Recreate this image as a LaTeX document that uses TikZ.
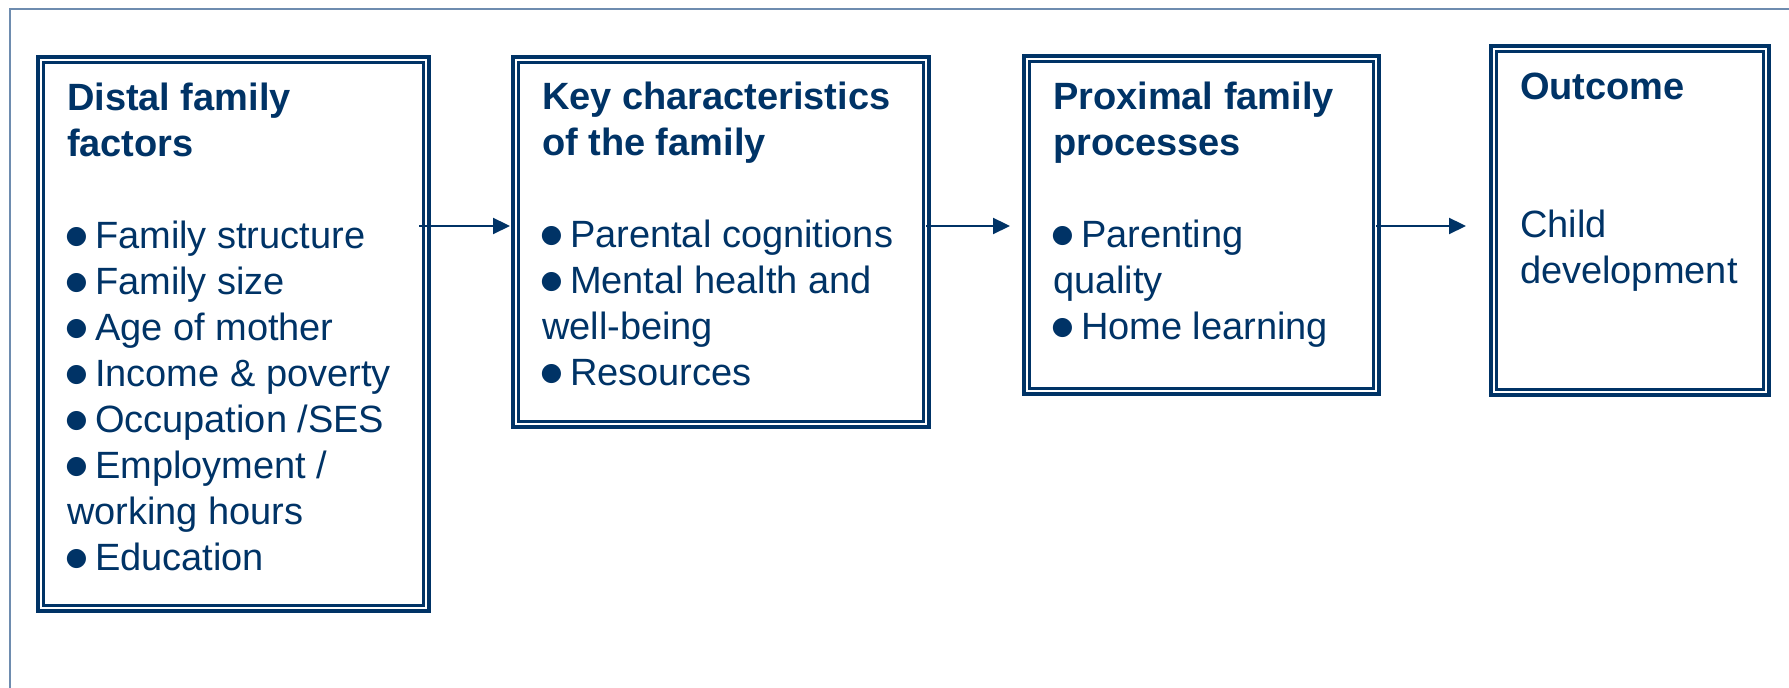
\documentclass[tikz,border=0pt]{standalone}
\usepackage{fontspec}
\setmainfont{Liberation Sans}
\newfontfamily\djv{DejaVu Sans}
\usetikzlibrary{arrows.meta,calc}
\definecolor{navy}{RGB}{0,51,102}
\definecolor{framecol}{RGB}{110,140,175}
\tikzset{
  box/.style={draw=navy, line width=2pt, inner sep=0pt, outer sep=0pt, rectangle},
  innerline/.style={draw=navy, line width=1.2pt},
  lbl/.style={anchor=base west, align=left, inner sep=0pt, outer sep=0pt, text=navy,
    font=\fontsize{19pt}{23pt}\selectfont},
  conn/.style={draw=navy, line width=1.1pt, -{Triangle[length=8.5pt,width=8pt]}},
}
\newcommand{\innerbox}[1]{\draw[innerline] ($(#1.north west)+(2.7pt,-2.7pt)$) rectangle ($(#1.south east)+(-2.7pt,2.7pt)$);}
\newcommand{\bul}{\hbox to 14pt{\kern-0.7pt\raisebox{2.6pt}{\djv\fontsize{12.5pt}{12.5pt}\selectfont ●}\hss}}
\begin{document}
\begin{tikzpicture}[x=0.5pt,y=-0.5pt]
\useasboundingbox (0,0) rectangle (1789,688);
% outer frame (cut by the picture edges)
\draw[framecol, line width=0.8pt] (10,700) -- (10,9) -- (1800,9);

% boxes
\node[box, minimum width=195.5pt, minimum height=277pt] (b1) at (233.5,334) {};
\node[box, minimum width=208pt, minimum height=185pt] (b2) at (721,242) {};
\node[box, minimum width=177.5pt, minimum height=169pt] (b3) at (1201.5,225) {};
\node[box, minimum width=139pt, minimum height=174.5pt] (b4) at (1630,220.5) {};
\innerbox{b1}
\innerbox{b2}
\innerbox{b3}
\innerbox{b4}

% texts (anchored at the baseline of the last line)
\node[lbl] (t1) at (67,571) {\textbf{Distal family}\\\textbf{factors}\\[23pt]%
\bul Family structure\\\bul Family size\\\bul Age of mother\\%
\bul Income \& poverty\\\bul Occupation /SES\\\bul Employment /\\%
working hours\\\bul Education};
\node[lbl] (t2) at (542,386) {\textbf{Key characteristics}\\\textbf{of the family}\\[23pt]%
\bul Parental cognitions\\\bul Mental health and\\well-being\\\bul Resources};
\node[lbl] (t3) at (1053,340) {\textbf{Proximal family}\\\textbf{processes}\\[23pt]%
\bul Parenting\\quality\\\bul Home learning};
\node[lbl] (t4) at (1520,284) {\textbf{Outcome}\\[46pt]Child\\development};

% connectors
\coordinate (ay) at (0,226);
\draw[conn] ($(b1.east |- ay)+(-5pt,0)$) -- ($(b2.west |- ay)+(-1.5pt,0)$);
\draw[conn] ($(b2.east |- ay)+(-1.5pt,0)$) -- ($(b3.west |- ay)+(-7pt,0)$);
\draw[conn] ($(b3.east |- ay)+(-1.5pt,0)$) -- ($(b4.west |- ay)+(-12.5pt,0)$);
\end{tikzpicture}
\end{document}
